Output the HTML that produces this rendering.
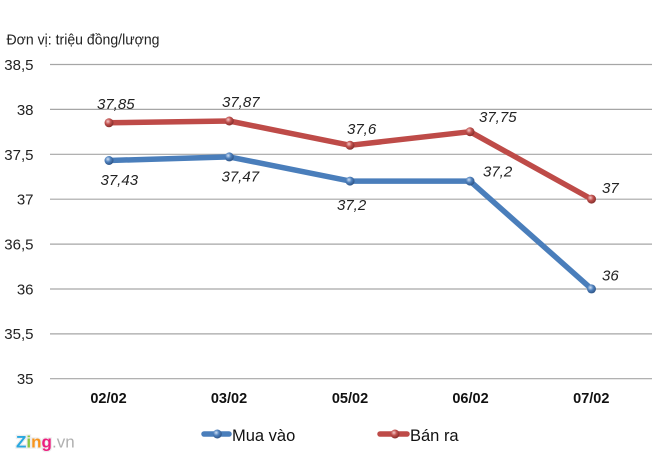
<!DOCTYPE html>
<html><head><meta charset="utf-8"><style>
html,body{margin:0;padding:0;background:#fff;}
svg{display:block;}
text{font-family:"Liberation Sans",sans-serif;}
</style></head><body>
<svg width="660" height="463" viewBox="0 0 660 463" xmlns="http://www.w3.org/2000/svg">
<defs>
<radialGradient id="gb" cx="0.38" cy="0.35" r="0.7">
<stop offset="0" stop-color="#cfe0f5"/><stop offset="0.45" stop-color="#4f81bd"/><stop offset="1" stop-color="#2a4f80"/>
</radialGradient>
<radialGradient id="gr" cx="0.38" cy="0.35" r="0.7">
<stop offset="0" stop-color="#f5caca"/><stop offset="0.45" stop-color="#c0504d"/><stop offset="1" stop-color="#7d2a28"/>
</radialGradient>
</defs>
<rect width="660" height="463" fill="#fff"/>
<text x="6.5" y="44.5" font-size="14.5" fill="#222" textLength="153" lengthAdjust="spacingAndGlyphs">Đơn vị: triệu đồng/lượng</text>
<g stroke="#a6a6a6" stroke-width="1.2">
<line x1="50" y1="64.5" x2="652" y2="64.5"/>
<line x1="50" y1="109.4" x2="652" y2="109.4"/>
<line x1="50" y1="154.3" x2="652" y2="154.3"/>
<line x1="50" y1="199.2" x2="652" y2="199.2"/>
<line x1="50" y1="244.1" x2="652" y2="244.1"/>
<line x1="50" y1="289" x2="652" y2="289"/>
<line x1="50" y1="333.9" x2="652" y2="333.9"/>
<line x1="50" y1="378.7" x2="652" y2="378.7"/>
</g>
<g font-size="15" fill="#222" text-anchor="end">
<text x="33.5" y="70">38,5</text>
<text x="33.5" y="115">38</text>
<text x="33.5" y="160">37,5</text>
<text x="33.5" y="204.5">37</text>
<text x="33.5" y="249.5">36,5</text>
<text x="33.5" y="294.5">36</text>
<text x="33.5" y="339">35,5</text>
<text x="33.5" y="384">35</text>
</g>
<g font-size="14.5" font-weight="bold" fill="#111" text-anchor="middle">
<text x="108.5" y="403">02/02</text>
<text x="229" y="403">03/02</text>
<text x="350" y="403">05/02</text>
<text x="470.5" y="403">06/02</text>
<text x="591.3" y="403">07/02</text>
</g>
<polyline points="109,160.5 229.3,156.9 350,181.1 470,181.1 591.5,288.9" fill="none" stroke="#4a7ebb" stroke-width="5.5" stroke-linejoin="round" stroke-linecap="round"/>
<polyline points="109,122.8 229.3,121 350,145.3 470,131.7 591.5,199.1" fill="none" stroke="#be4b48" stroke-width="5.5" stroke-linejoin="round" stroke-linecap="round"/>
<g fill="url(#gb)">
<circle cx="109" cy="160.5" r="4.5"/><circle cx="229.3" cy="156.9" r="4.5"/><circle cx="350" cy="181.1" r="4.5"/><circle cx="470" cy="181.1" r="4.5"/><circle cx="591.5" cy="288.9" r="4.5"/>
</g>
<g fill="url(#gr)">
<circle cx="109" cy="122.8" r="4.5"/><circle cx="229.3" cy="121" r="4.5"/><circle cx="350" cy="145.3" r="4.5"/><circle cx="470" cy="131.7" r="4.5"/><circle cx="591.5" cy="199.1" r="4.5"/>
</g>
<g font-size="15" font-style="italic" fill="#222">
<text x="97" y="109">37,85</text>
<text x="222" y="107">37,87</text>
<text x="347" y="134">37,6</text>
<text x="479" y="122">37,75</text>
<text x="602" y="193">37</text>
<text x="100.5" y="185">37,43</text>
<text x="221.5" y="181.5">37,47</text>
<text x="337" y="210">37,2</text>
<text x="483" y="176.5">37,2</text>
<text x="602" y="280.5">36</text>
</g>
<line x1="204" y1="434" x2="229" y2="434" stroke="#4a7ebb" stroke-width="5.5" stroke-linecap="round"/>
<circle cx="217.3" cy="434" r="4.5" fill="url(#gb)"/>
<text x="232" y="441" font-size="16.5" fill="#111">Mua vào</text>
<line x1="380" y1="434" x2="407" y2="434" stroke="#be4b48" stroke-width="5.5" stroke-linecap="round"/>
<circle cx="395" cy="434" r="4.5" fill="url(#gr)"/>
<text x="410" y="441" font-size="16.5" fill="#111">Bán ra</text>
<g font-size="17" font-weight="bold" stroke="#eeeeee" stroke-width="2.5" paint-order="stroke">
<text x="16" y="447.7"><tspan fill="#29a8e0">Z</tspan><tspan fill="#8dc63f">i</tspan><tspan fill="#f7941d">n</tspan><tspan fill="#ec1c7d">g</tspan></text>
</g>
<text x="52" y="447.7" font-size="17" fill="#b0b0b0">.vn</text>
</svg>
</body></html>
